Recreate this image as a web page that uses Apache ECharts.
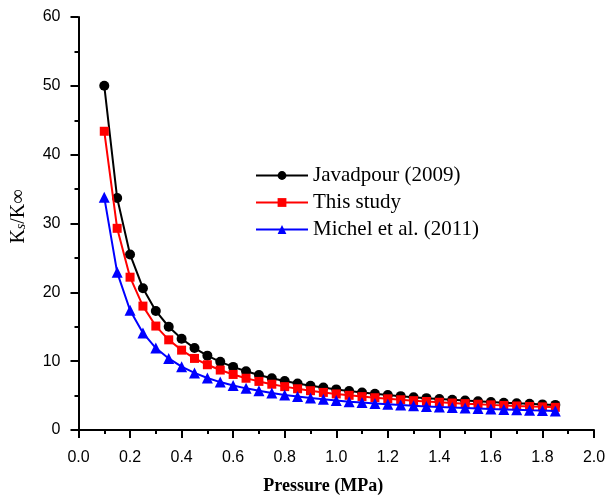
<!DOCTYPE html>
<html><head><meta charset="utf-8">
<script src="https://cdn.jsdelivr.net/npm/echarts@6/dist/echarts.min.js"></script>
<style>html,body{margin:0;padding:0;background:#fff}#c{width:611px;height:500px}</style>
</head><body><div id="c"></div>
<script>
const pressure = [0.1,0.15,0.2,0.25,0.3,0.35,0.4,0.45,0.5,0.55,0.6,0.65,0.7,0.75,0.8,0.85,0.9,0.95,1.0,1.05,1.1,1.15,1.2,1.25,1.3,1.35,1.4,1.45,1.5,1.55,1.6,1.65,1.7,1.75,1.8,1.85];
const javadpour = [50.0,33.7,25.5,20.6,17.3,15.0,13.25,11.9,10.8,9.9,9.17,8.54,8.0,7.53,7.13,6.76,6.44,6.16,5.9,5.67,5.45,5.26,5.08,4.92,4.77,4.63,4.5,4.38,4.27,4.16,4.06,3.97,3.88,3.8,3.72,3.65];
const thisStudy = [43.4,29.3,22.2,18.0,15.1,13.1,11.6,10.4,9.48,8.71,8.07,7.52,7.06,6.65,6.3,5.99,5.71,5.46,5.24,5.04,4.85,4.69,4.53,4.39,4.26,4.14,4.03,3.92,3.83,3.74,3.65,3.57,3.49,3.42,3.36,3.29];
const michel = [33.8,22.9,17.4,14.1,11.9,10.4,9.2,8.29,7.56,6.96,6.47,6.05,5.69,5.37,5.1,4.86,4.64,4.45,4.28,4.12,3.98,3.85,3.73,3.62,3.52,3.43,3.34,3.26,3.19,3.12,3.05,2.99,2.93,2.87,2.82,2.77];
const seriesNames = ['Javadpour (2009)','This study','Michel et al. (2011)'];

const zip = (xs, ys) => xs.map((x,i)=>[x, ys[i]]);
const chart = echarts.init(document.getElementById('c'), null, {renderer:'canvas'});
const axisCommon = {
  axisLine:{show:true, onZero:false, lineStyle:{color:'#000', width:2}},
  axisTick:{show:true, inside:false, length:8, lineStyle:{color:'#000', width:2}},
  minorTick:{show:true, splitNumber:2, length:4, lineStyle:{color:'#000', width:2}},
  splitLine:{show:false},
  axisLabel:{color:'#000', fontFamily:'Liberation Sans', fontSize:16, margin:18}
};
chart.setOption({
  animation:false,
  grid:{left:78.5, right:17, top:17, bottom:68, containLabel:false},
  legend:{
    data:seriesNames, orient:'vertical', left:250, top:160, itemGap:6,
    itemWidth:52, itemHeight:11,
    textStyle:{color:'#000', fontFamily:'Liberation Serif', fontSize:21, lineHeight:21}
  },
  xAxis:Object.assign({}, axisCommon, {
    type:'value', min:0, max:2, interval:0.2,
    axisLabel:Object.assign({}, axisCommon.axisLabel, {margin:20, formatter:v=>v.toFixed(1)}),
    name:'Pressure (MPa)', nameLocation:'middle', nameGap:47,
    nameTextStyle:{color:'#000', fontFamily:'Liberation Serif', fontSize:18, fontWeight:'bold', padding:[0,26,0,0]}
  }),
  yAxis:Object.assign({}, axisCommon, {
    type:'value', min:0, max:60, interval:10,
    name:'{a|K}{s|s}{a|/K∞}', nameLocation:'middle', nameGap:50, nameRotate:90,
    nameTextStyle:{padding:[0,0,0,14], rich:{
      a:{color:'#000', fontFamily:'Liberation Serif', fontSize:20},
      s:{color:'#000', fontFamily:'Liberation Serif', fontSize:14, fontStyle:'italic', verticalAlign:'bottom', padding:[6,0,0,0]}
    }}
  }),
  series:[
    {name:seriesNames[0], type:'line', data:zip(pressure, javadpour), symbol:'circle', symbolSize:10,
     lineStyle:{color:'#000', width:2}, itemStyle:{color:'#000'}, z:3},
    {name:seriesNames[1], type:'line', data:zip(pressure, thisStudy), symbol:'rect', symbolSize:9,
     lineStyle:{color:'#ff0000', width:2}, itemStyle:{color:'#ff0000'}, z:4},
    {name:seriesNames[2], type:'line', data:zip(pressure, michel), symbol:'triangle', symbolSize:11,
     lineStyle:{color:'#0000ff', width:2}, itemStyle:{color:'#0000ff'}, z:5}
  ]
});
</script></body></html>
